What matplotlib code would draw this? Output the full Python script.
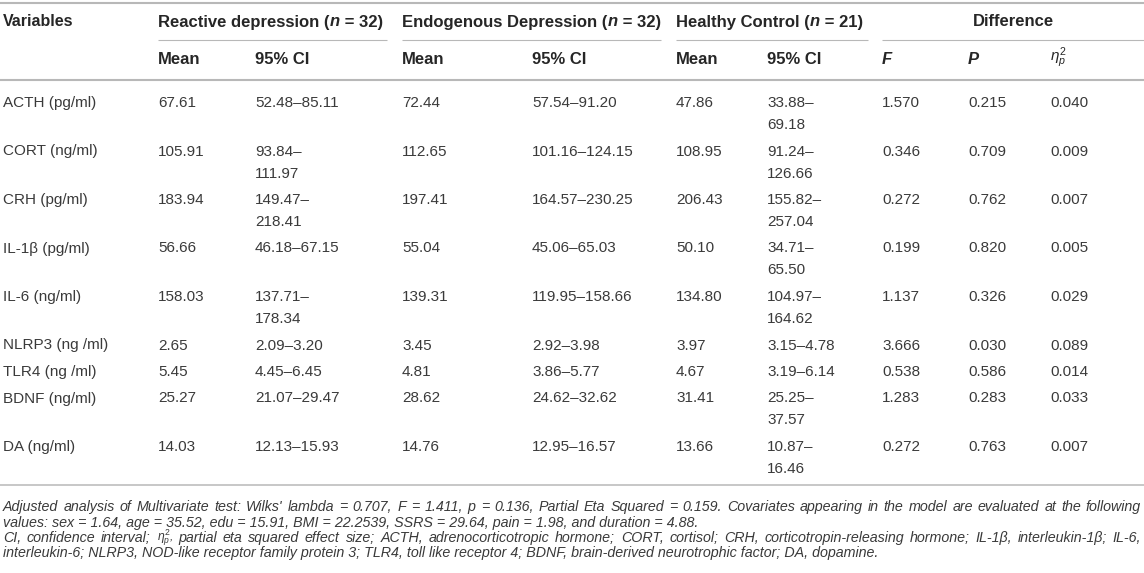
import matplotlib.pyplot as plt

plt.rcParams['font.family'] = ['Liberation Sans', 'DejaVu Sans']
plt.rcParams['mathtext.fontset'] = 'custom'
plt.rcParams['mathtext.rm'] = 'Liberation Sans'
plt.rcParams['mathtext.it'] = 'Liberation Sans:italic'
plt.rcParams['mathtext.bf'] = 'Liberation Sans:bold'

# table data
variables = ['ACTH (pg/ml)', 'CORT (ng/ml)', 'CRH (pg/ml)', 'IL-1\u03b2 (pg/ml)', 'IL-6 (ng/ml)',
             'NLRP3 (ng /ml)', 'TLR4 (ng /ml)', 'BDNF (ng/ml)', 'DA (ng/ml)']
reactive_mean = [67.61, 105.91, 183.94, 56.66, 158.03, 2.65, 5.45, 25.27, 14.03]
reactive_lo = [52.48, 93.84, 149.47, 46.18, 137.71, 2.09, 4.45, 21.07, 12.13]
reactive_hi = [85.11, 111.97, 218.41, 67.15, 178.34, 3.20, 6.45, 29.47, 15.93]
endo_mean = [72.44, 112.65, 197.41, 55.04, 139.31, 3.45, 4.81, 28.62, 14.76]
endo_lo = [57.54, 101.16, 164.57, 45.06, 119.95, 2.92, 3.86, 24.62, 12.95]
endo_hi = [91.20, 124.15, 230.25, 65.03, 158.66, 3.98, 5.77, 32.62, 16.57]
healthy_mean = [47.86, 108.95, 206.43, 50.10, 134.80, 3.97, 4.67, 31.41, 13.66]
healthy_lo = [33.88, 91.24, 155.82, 34.71, 104.97, 3.15, 3.19, 25.25, 10.87]
healthy_hi = [69.18, 126.66, 257.04, 65.50, 164.62, 4.78, 6.14, 37.57, 16.46]
f_vals = [1.570, 0.346, 0.272, 0.199, 1.137, 3.666, 0.538, 1.283, 0.272]
p_vals = [0.215, 0.709, 0.762, 0.820, 0.326, 0.030, 0.586, 0.283, 0.763]
eta_vals = [0.040, 0.009, 0.007, 0.005, 0.029, 0.089, 0.014, 0.033, 0.007]

groups = [('Reactive depression (', 'n', ' = 32)'),
          ('Endogenous Depression (', 'n', ' = 32)'),
          ('Healthy Control (', 'n', ' = 21)')]

footnotes = [
    "Adjusted analysis of Multivariate test: Wilks' lambda = 0.707, F = 1.411, p = 0.136, Partial Eta Squared = 0.159. "
    "Covariates appearing in the model are evaluated at the following",
    "values: sex = 1.64, age = 35.52, edu = 15.91, BMI = 22.2539, SSRS = 29.64, pain = 1.98, and duration = 4.88.",
    "CI, confidence interval; $\\eta^2_p$, partial eta squared effect size; ACTH, adrenocorticotropic hormone; "
    "CORT, cortisol; CRH, corticotropin-releasing hormone; IL-1\u03b2, interleukin-1\u03b2; IL-6,",
    "interleukin-6; NLRP3, NOD-like receptor family protein 3; TLR4, toll like receptor 4; "
    "BDNF, brain-derived neurotrophic factor; DA, dopamine.",
]
justified = [True, False, True, False]

# layout (pixels)
W, H = 1144, 573
col_x = [3, 158, 255, 402, 532, 676, 767, 882, 968, 1050]
ci_max_chars = {2: 11, 4: 13, 6: 9}
text_col = '#3a3a3a'
head_col = '#262626'
line_col = '#b8b8b8'
fs = 11.0
fs_head = 12.0
fs_note = 10.3

fig = plt.figure(figsize=(W / 100, H / 100), dpi=100)
ax = fig.add_axes([0, 0, 1, 1])
ax.set_xlim(0, W)
ax.set_ylim(H, 0)
ax.axis('off')
renderer = fig.canvas.get_renderer()


def width_of(t):
    return t.get_window_extent(renderer=renderer).width


def runs(x, y, parts, **kw):
    for s, style in parts:
        t = ax.text(x, y, s, fontstyle=style, **kw)
        x += width_of(t)


# rules
ax.plot([0, W], [3, 3], color=line_col, lw=1.5, solid_capstyle='butt')
ax.plot([0, W], [80, 80], color=line_col, lw=1.5, solid_capstyle='butt')
ax.plot([0, W], [485, 485], color=line_col, lw=1.1, solid_capstyle='butt')
group_starts = [col_x[1], col_x[3], col_x[5], col_x[7]]
group_ends = [col_x[3] - 15, col_x[5] - 15, col_x[7] - 14, W]
for a, b in zip(group_starts, group_ends):
    ax.plot([a, b], [40, 40], color=line_col, lw=0.8, solid_capstyle='butt')

# header
hkw = dict(fontsize=fs_head, fontweight='bold', color=head_col, va='center')
ax.text(col_x[0], 22, 'Variables', **dict(hkw, fontsize=11.5))
for gx, (a, n, b) in zip(group_starts, groups):
    runs(gx, 22, [(a, 'normal'), (n, 'italic'), (b, 'normal')], **hkw)
ax.text((group_starts[3] + group_ends[3]) / 2, 22, 'Difference', ha='center', **hkw)
for ci in [1, 3, 5]:
    ax.text(col_x[ci], 60, 'Mean', **hkw)
    ax.text(col_x[ci + 1], 60, '95% CI', **hkw)
ax.text(col_x[7], 60, 'F', fontstyle='italic', **hkw)
ax.text(col_x[8], 60, 'P', fontstyle='italic', **hkw)
ax.text(col_x[9], 58, r'$\eta^2_p$', fontsize=fs, color=head_col, va='center')

# body
bkw = dict(fontsize=fs, color=text_col, va='center')
y = 103
for i in range(len(variables)):
    cells = [[variables[i]],
             ['%.2f' % reactive_mean[i]], [reactive_lo[i], reactive_hi[i]],
             ['%.2f' % endo_mean[i]], [endo_lo[i], endo_hi[i]],
             ['%.2f' % healthy_mean[i]], [healthy_lo[i], healthy_hi[i]],
             ['%.3f' % f_vals[i]], ['%.3f' % p_vals[i]], ['%.3f' % eta_vals[i]]]
    nlines = 1
    for c, cell in enumerate(cells):
        if c in ci_max_chars:
            lo, hi = '%.2f' % cell[0], '%.2f' % cell[1]
            s = lo + '\u2013' + hi
            if len(s) > ci_max_chars[c]:
                ax.text(col_x[c], y, lo + '\u2013', **bkw)
                ax.text(col_x[c], y + 22, hi, **bkw)
                nlines = 2
            else:
                ax.text(col_x[c], y, s, **bkw)
        else:
            ax.text(col_x[c], y, cell[0], **bkw)
    y += 26.5 + 22 * (nlines - 1)

# footnotes
nkw = dict(fontsize=fs_note, color=text_col, va='center', fontstyle='italic')
for k, (line, just) in enumerate(zip(footnotes, justified)):
    ny = 507 + 15.5 * k
    if not just:
        ax.text(3, ny, line, **nkw)
        continue
    words = line.split(' ')
    items = []
    for w in words:
        kw = dict(nkw, fontsize=fs_note * 0.85) if '$' in w else nkw
        items.append(ax.text(0, ny, w, **kw))
    widths = [width_of(t) for t in items]
    gap = (1141 - 3 - sum(widths)) / (len(words) - 1)
    x = 3
    for t, w in zip(items, widths):
        t.set_x(x)
        x += w + gap

fig.savefig('out.png', dpi=100)
